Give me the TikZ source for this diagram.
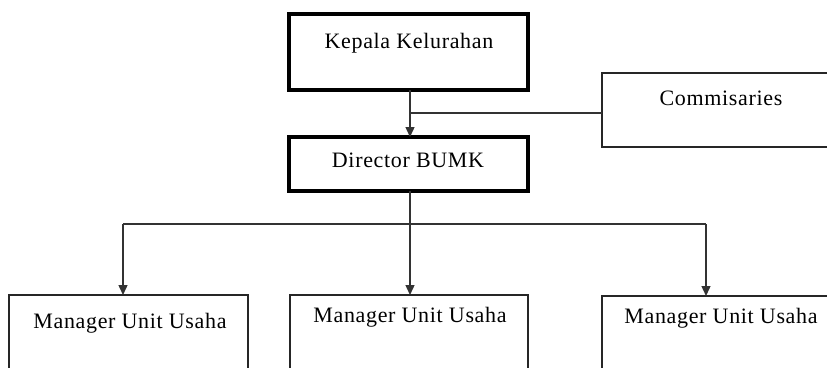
\documentclass[tikz,border=0pt]{standalone}
\usepackage{fontspec}
\setmainfont{Liberation Serif}[LetterSpace=3]
\usetikzlibrary{arrows.meta}
\begin{document}
\begin{tikzpicture}[x=1pt,y=-1pt,
  boldbox/.style={draw=black,line width=3.5pt,inner sep=0pt,outer sep=0pt,rectangle},
  plainbox/.style={draw=black!85,line width=1.4pt,inner sep=0pt,outer sep=0pt,rectangle},
  label/.style={inner sep=0pt,font=\fontsize{22}{26}\selectfont},
  link/.style={draw=black!80,line width=1.4pt},
  tip/.style={link,-{Triangle[length=10pt,width=9pt]}}]
\clip (0,0) rectangle (827,367);
\fill[white] (0,0) rectangle (827,367);

% management boxes
\node[boldbox,minimum width=239,minimum height=76] (kep) at (408.5,52) {};
\node[boldbox,minimum width=239,minimum height=54] (dir) at (408.5,164) {};
\node[plainbox,minimum width=250,minimum height=74] (com) at (727,110) {};

% unit managers (boxes run past the lower edge)
\node[plainbox,minimum width=239,minimum height=110] (m1) at (128.5,350) {};
\node[plainbox,minimum width=238,minimum height=110] (m2) at (409,350) {};
\node[plainbox,minimum width=250,minimum height=110] (m3) at (727,351) {};

% texts
\node[label] (kept) at (409,43) {Kepala Kelurahan};
\node[label] (dirt) at (408,160) {Director BUMK};
\node[label] (comt) at (721,98) {Commisaries};
\node[label] (m1t) at (130,323) {Manager Unit Usaha};
\node[label] (m2t) at (410,317) {Manager Unit Usaha};
\node[label] (m3t) at (721,318) {Manager Unit Usaha};

% connectors
\coordinate (join) at (410,113);
\coordinate (split) at (410,224);
\draw[tip] (kep.south -| join) -- (dir.north -| join);
\draw[link] (com.west |- join) -- (join);
\draw[tip] (dir.south -| split) -- (m2.north -| split);
\draw[link] (123,224) coordinate (sl) -- (706,224) coordinate (sr);
\draw[tip] (sl) -- (m1.north -| sl);
\draw[tip] (sr) -- (m3.north -| sr);
\end{tikzpicture}
\end{document}
